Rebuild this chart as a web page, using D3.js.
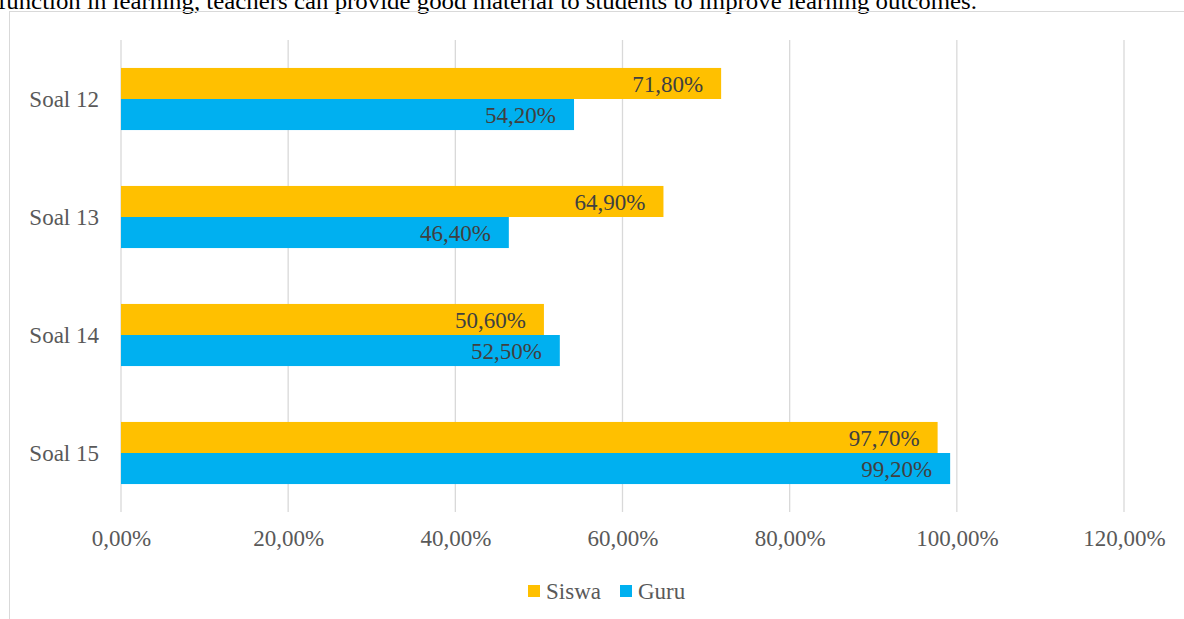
<!DOCTYPE html>
<html>
<head>
<meta charset="utf-8">
<script src="https://cdn.jsdelivr.net/npm/d3@7"></script>
<style>
  html, body { margin: 0; padding: 0; background: #fff; overflow: hidden; }
  svg { display: block; font-family: "Liberation Serif", "Times New Roman", serif; }
</style>
</head>
<body>
<svg id="chart" width="1184" height="619"></svg>
<script>
/* ---------- Data ---------- */
const categories = ['Soal 12', 'Soal 13', 'Soal 14', 'Soal 15'];
const seriesNames = ['Siswa', 'Guru'];
const siswaValues = [71.8, 64.9, 50.6, 97.7];
const guruValues = [54.2, 46.4, 52.5, 99.2];
const tickValues = [0, 20, 40, 60, 80, 100, 120];
const seriesColors = ['#FFC000', '#00B0F0'];
const captionText = 'function in learning, teachers can provide good material to students to improve learning outcomes.';

const svg = d3.select('#chart');
const fmt = v => d3.format('.2f')(v).replace('.', ',') + '%';

// Line of body text above the chart frame (its top is cut by the page edge, as in the source)
svg.append('text')
  .attr('x', -2).attr('y', 9)
  .attr('font-size', 24)
  .attr('fill', '#000')
  .attr('textLength', 979)
  .attr('lengthAdjust', 'spacingAndGlyphs')
  .text(captionText);

// Chart frame (runs off the right and bottom of the page)
svg.append('rect')
  .attr('x', 9.5).attr('y', 11.5)
  .attr('width', 1300).attr('height', 700)
  .attr('fill', 'none')
  .attr('stroke', '#d9d9d9')
  .attr('stroke-width', 1);

/* ---------- Scales ---------- */
const x = d3.scaleLinear().domain([0, 120]).range([121, 1124]);
const y = d3.scaleBand().domain(categories).range([40, 512]);
const ySub = d3.scaleBand().domain(seriesNames).range([0, y.bandwidth()]).paddingOuter(0.9);
const color = d3.scaleOrdinal().domain(seriesNames).range(seriesColors);

// Gridlines
svg.append('g')
  .selectAll('line')
  .data(tickValues)
  .join('line')
  .attr('x1', d => x(d)).attr('x2', d => x(d))
  .attr('y1', 40).attr('y2', 512)
  .attr('stroke', '#d9d9d9')
  .attr('stroke-width', 1.3);

// X axis labels
const xAxis = d3.axisBottom(x).tickValues(tickValues).tickFormat(fmt).tickSize(0).tickPadding(0);
const gx = svg.append('g').attr('transform', 'translate(0,530)').call(xAxis);
gx.select('.domain').remove();
gx.selectAll('text')
  .attr('font-family', '"Liberation Serif", "Times New Roman", serif')
  .attr('font-size', 23)
  .attr('fill', '#595959')
  .attr('dy', '0.71em');

// Y axis labels
const yAxis = d3.axisLeft(y).tickSize(0).tickPadding(0);
const gy = svg.append('g').attr('transform', 'translate(99,0)').call(yAxis);
gy.select('.domain').remove();
gy.selectAll('text')
  .attr('font-family', '"Liberation Serif", "Times New Roman", serif')
  .attr('font-size', 23)
  .attr('fill', '#595959')
  .attr('dy', '0.35em');

/* ---------- Bars ---------- */
const rows = categories.map((c, i) => ({
  cat: c,
  vals: [
    { key: 'Siswa', value: siswaValues[i] },
    { key: 'Guru', value: guruValues[i] }
  ]
}));

const groups = svg.append('g')
  .selectAll('g')
  .data(rows)
  .join('g')
  .attr('transform', d => `translate(0,${y(d.cat)})`);

groups.selectAll('rect')
  .data(d => d.vals)
  .join('rect')
  .attr('x', x(0))
  .attr('y', d => ySub(d.key))
  .attr('width', d => x(d.value) - x(0))
  .attr('height', ySub.bandwidth())
  .attr('fill', d => color(d.key));

groups.selectAll('text')
  .data(d => d.vals)
  .join('text')
  .attr('x', d => x(d.value) - 18)
  .attr('y', d => ySub(d.key) + ySub.bandwidth() / 2)
  .attr('dy', '0.35em')
  .attr('text-anchor', 'end')
  .attr('font-size', 23)
  .attr('fill', '#404040')
  .text(d => fmt(d.value));

/* ---------- Legend ---------- */
const legendX = [528, 620];
const legend = svg.append('g')
  .selectAll('g')
  .data(seriesNames)
  .join('g')
  .attr('transform', (d, i) => `translate(${legendX[i]},585)`);

legend.append('rect')
  .attr('width', 12).attr('height', 12)
  .attr('fill', d => color(d));

legend.append('text')
  .attr('x', 18).attr('y', 6)
  .attr('dy', '0.35em')
  .attr('font-size', 23)
  .attr('fill', '#595959')
  .text(d => d);
</script>
</body>
</html>
